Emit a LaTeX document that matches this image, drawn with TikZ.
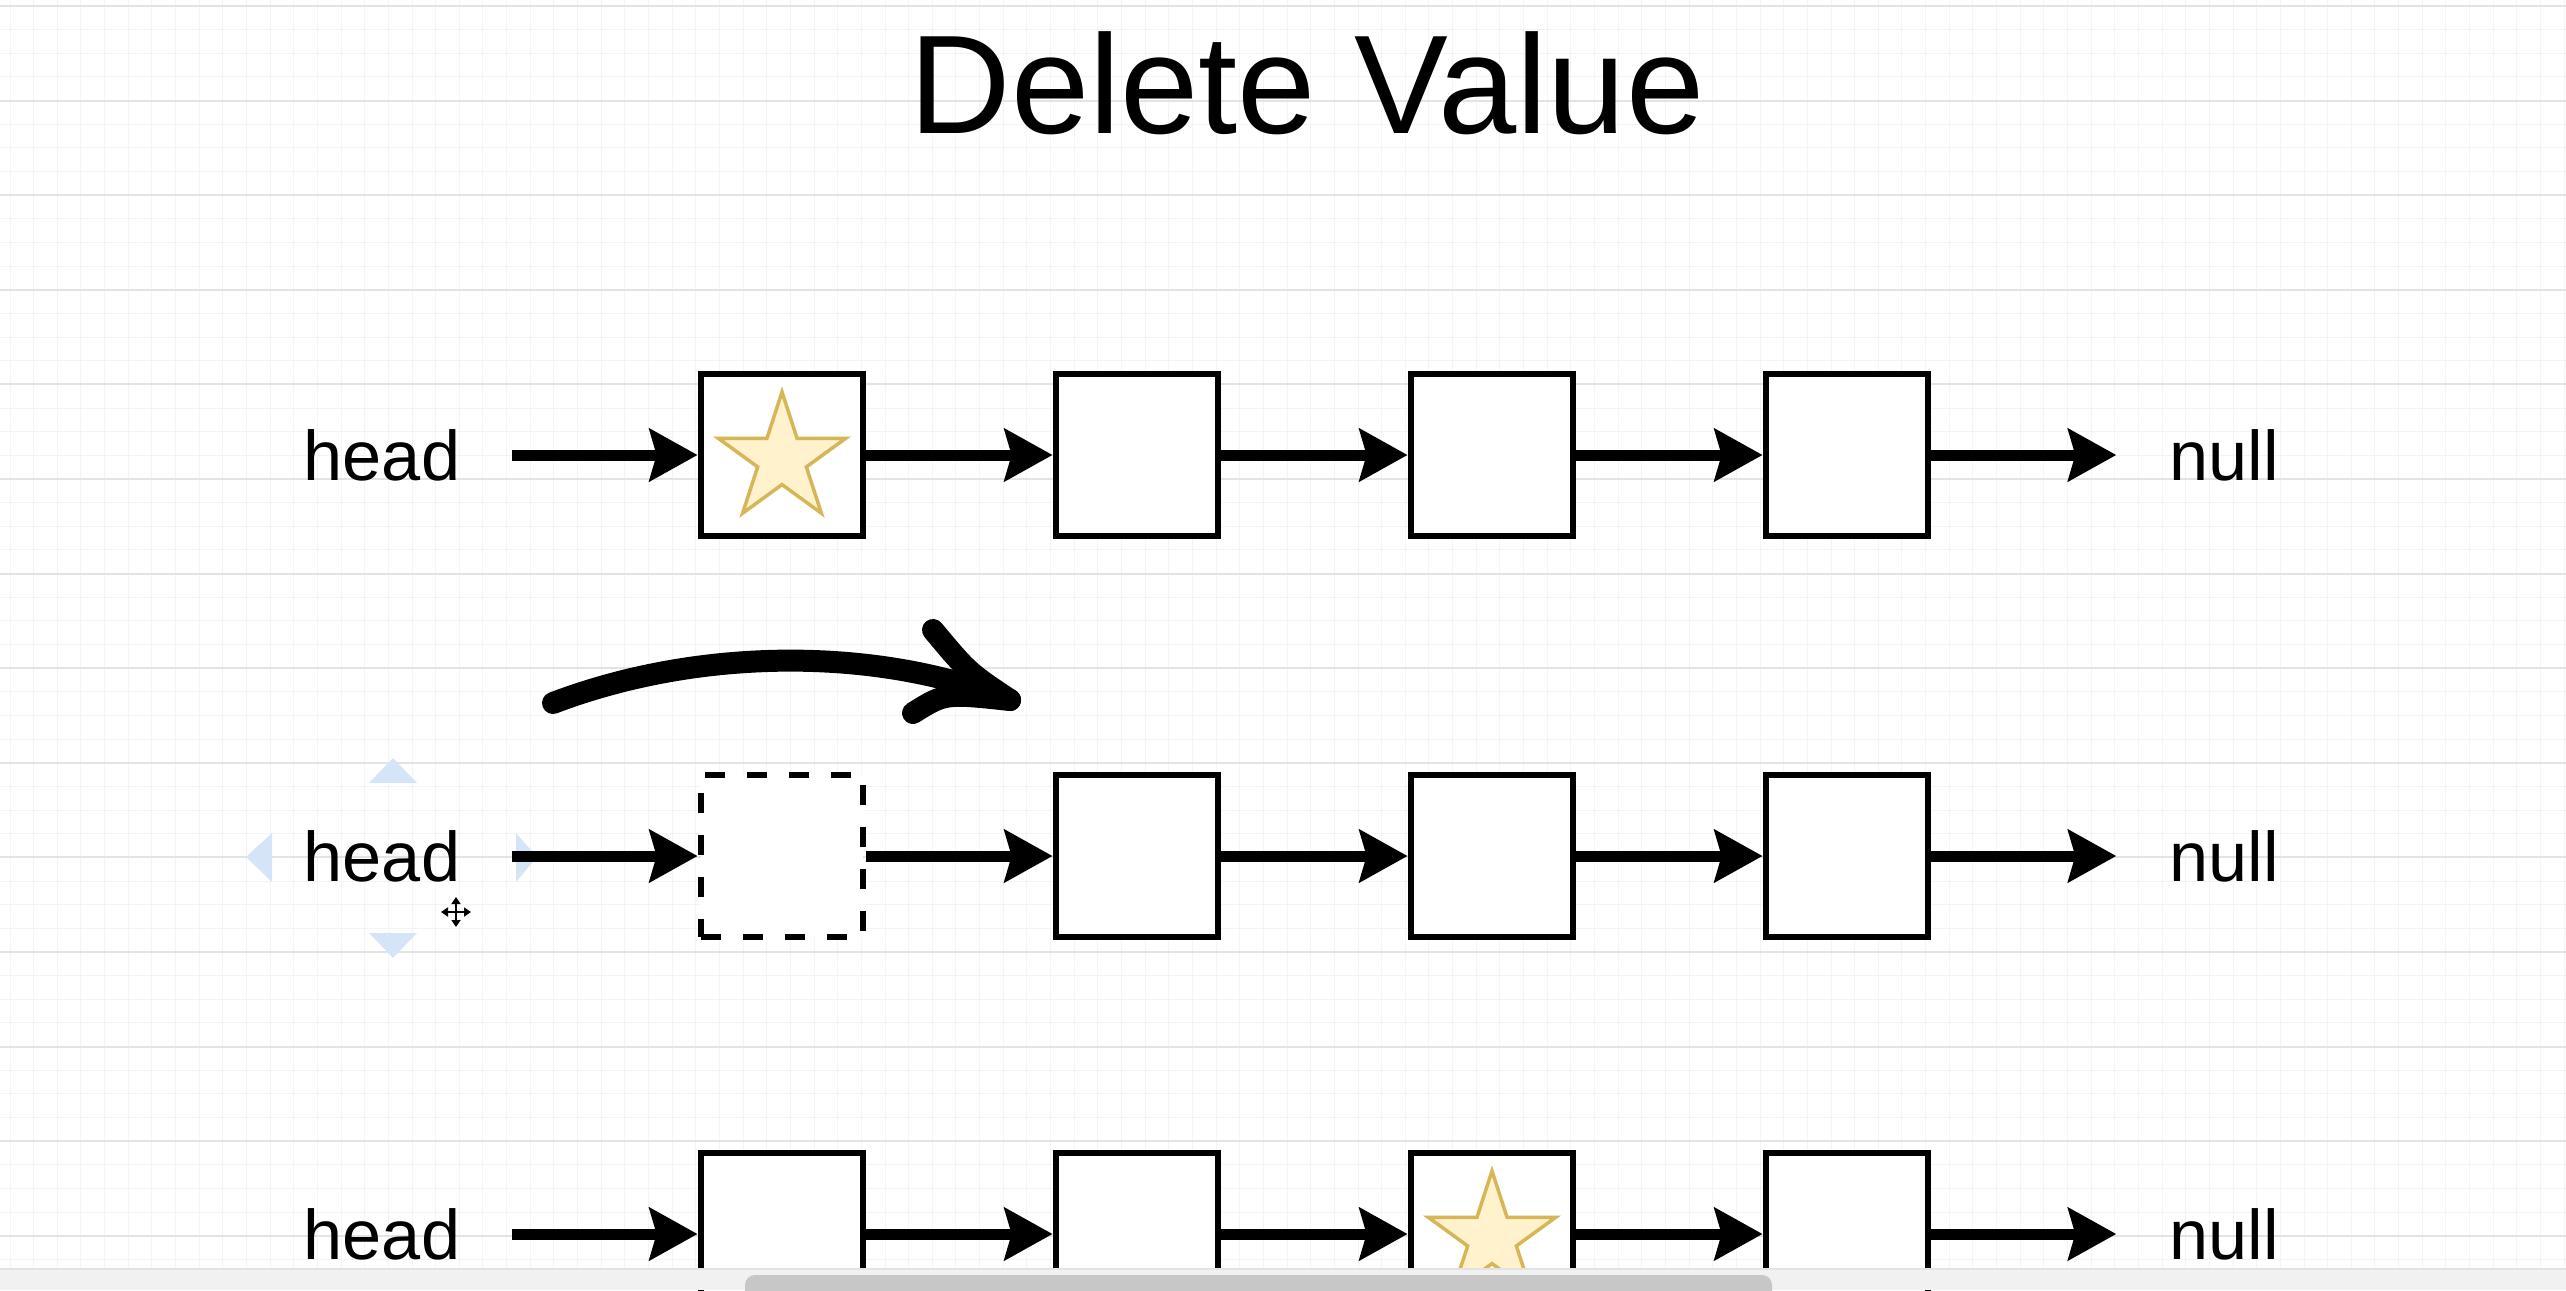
\documentclass[tikz,border=0pt]{standalone}
\usepackage{fontspec}
\setmainfont{Liberation Sans}
\usepackage{tikz}
\usetikzlibrary{arrows.meta}
\usetikzlibrary{shapes.geometric}
\definecolor{gridmaj}{HTML}{E3E3E3}
\definecolor{gridmin}{HTML}{F4F4F4}
\definecolor{starfill}{HTML}{FFF2CC}
\definecolor{starline}{HTML}{D6B656}
\definecolor{handle}{HTML}{D5E4F7}
\definecolor{barbg}{HTML}{F1F1F1}
\definecolor{barfg}{HTML}{C7C7C7}

\begin{document}
\begin{tikzpicture}[
		cell/.style={draw, line width=0.068cm, minimum size=1.62cm, inner sep=0pt, fill=white},
		gone/.style={cell, dash pattern=on 0.2cm off 0.22cm},
		lnk/.style={line width=0.11cm, -{Stealth[length=0.48cm, width=0.52cm, inset=0.07cm]}},
		lbl/.style={font=\fontsize{20}{24}\selectfont, inner sep=0pt},
		headlbl/.style={lbl, minimum width=2.58cm},
		nulllbl/.style={lbl, minimum width=2.14cm},
		titlelbl/.style={font=\fontsize{40}{48}\selectfont, inner sep=0pt},
		starred/.style={star, star points=5, star point ratio=2.618, minimum size=1.34cm, inner sep=0pt, fill=starfill, draw=starline, line width=0.035cm},
		sketch/.style={line width=0.22cm, line cap=round, line join=round}]
				\useasboundingbox (0,0) rectangle (25.66,-12.9);
				\clip (0,0) rectangle (25.66,-12.9);
				% background grid
				\foreach \k in {0,...,54}
					\draw[gridmin, line width=0.01cm] (0,-0.06-0.2365*\k) -- (25.66,-0.06-0.2365*\k);
				\foreach \k in {0,...,108}
					\draw[gridmin, line width=0.01cm] (0.1+0.2365*\k,0) -- (0.1+0.2365*\k,-12.9);
				\foreach \k in {0,...,13}
					\draw[gridmaj, line width=0.02cm] (0,-0.06-0.946*\k) -- (25.66,-0.06-0.946*\k);
				\node[titlelbl, anchor=base] (title) at (13.07,-1.33) {Delete Value};
				% row 1
				\node[headlbl] (h1) at (3.82,-4.55) {head};
				\node[cell] (a1) at (7.82,-4.55) {};
				\node[cell] (b1) at (11.37,-4.55) {};
				\node[cell] (c1) at (14.92,-4.55) {};
				\node[cell] (d1) at (18.47,-4.55) {};
				\node[nulllbl] (z1) at (22.24,-4.55) {null};
				\node[starred] (s1) at (7.82,-4.59) {};
				\draw[lnk] (h1) -- (a1);
				\draw[lnk] (a1) -- (b1);
				\draw[lnk] (b1) -- (c1);
				\draw[lnk] (c1) -- (d1);
				\draw[lnk] (d1) -- (z1);
				% hand drawn arrow
				\coordinate (swA) at (5.53,-7.03);
				\coordinate (swB) at (10.1,-7.0);
				\draw[sketch] (swA) .. controls (7.0,-6.47) and (8.78,-6.47) .. (swB);
				\draw[sketch] (9.33,-6.30) .. controls (9.68,-6.72) .. (swB);
				\draw[sketch] (9.13,-7.13) .. controls (9.45,-6.93) .. (swB);
				% row 2
				\fill[handle] (3.69,-7.83) -- (4.17,-7.83) -- (3.93,-7.58) -- cycle;
				\fill[handle] (3.69,-9.33) -- (4.17,-9.33) -- (3.93,-9.58) -- cycle;
				\fill[handle] (2.72,-8.33) -- (2.72,-8.82) -- (2.46,-8.57) -- cycle;
				\fill[handle] (5.16,-8.33) -- (5.16,-8.82) -- (5.37,-8.57) -- cycle;
				\node[headlbl] (h2) at (3.82,-8.56) {head};
				\node[gone] (a2) at (7.82,-8.56) {};
				\node[cell] (b2) at (11.37,-8.56) {};
				\node[cell] (c2) at (14.92,-8.56) {};
				\node[cell] (d2) at (18.47,-8.56) {};
				\node[nulllbl] (z2) at (22.24,-8.56) {null};
				\draw[lnk] (h2) -- (a2);
				\draw[lnk] (a2) -- (b2);
				\draw[lnk] (b2) -- (c2);
				\draw[lnk] (c2) -- (d2);
				\draw[lnk] (d2) -- (z2);
				\draw[line width=0.025cm, {Triangle[length=0.07cm,width=0.09cm]}-{Triangle[length=0.07cm,width=0.09cm]}] (4.41,-9.12) -- (4.71,-9.12);
				\draw[line width=0.025cm, {Triangle[length=0.07cm,width=0.09cm]}-{Triangle[length=0.07cm,width=0.09cm]}] (4.56,-8.97) -- (4.56,-9.27);
				% row 3
				\node[headlbl] (h3) at (3.82,-12.34) {head};
				\node[cell] (a3) at (7.82,-12.34) {};
				\node[cell] (b3) at (11.37,-12.34) {};
				\node[cell] (c3) at (14.92,-12.34) {};
				\node[cell] (d3) at (18.47,-12.34) {};
				\node[nulllbl] (z3) at (22.24,-12.34) {null};
				\node[starred] (s3) at (14.92,-12.38) {};
				\draw[lnk] (h3) -- (a3);
				\draw[lnk] (a3) -- (b3);
				\draw[lnk] (b3) -- (c3);
				\draw[lnk] (c3) -- (d3);
				\draw[lnk] (d3) -- (z3);
				% scroll bar
				\fill[barbg] (0,-12.69) rectangle (25.66,-12.9);
				\draw[gridmaj, line width=0.02cm] (0,-12.69) -- (25.66,-12.69);
				\fill[barfg, rounded corners=0.1cm] (7.45,-12.75) rectangle (17.72,-13.05);
			\end{tikzpicture}
\end{document}
